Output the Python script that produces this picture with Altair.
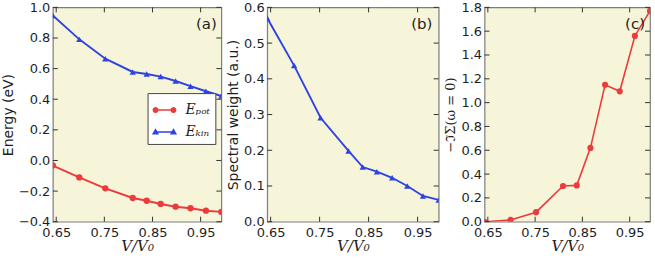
import math
import altair as alt
import pandas as pd

# V/V0 grid shared by all three panels
v_ratio = [0.643, 0.698, 0.752, 0.809, 0.838, 0.867, 0.898, 0.929, 0.961, 0.993]

# (a) energies in eV
e_kin = [0.947, 0.791, 0.665, 0.578, 0.565, 0.548, 0.519, 0.485, 0.452, 0.421]
e_pot = [-0.033, -0.111, -0.182, -0.245, -0.263, -0.284, -0.302, -0.312, -0.328, -0.336]

# (b) quasiparticle spectral weight
spectral_weight = [0.570, 0.437, 0.291, 0.198, 0.153, 0.140, 0.123, 0.100, 0.072, 0.061]

# (c) scattering rate at the Fermi level
im_sigma = [0.0, 0.015, 0.08, 0.30, 0.305, 0.62, 1.15, 1.095, 1.56, 1.77]

series_names = ["Eₚₒₜ", "Eₖᵢₙ"]
x_ticks = [0.65, 0.75, 0.85, 0.95]
x_domain = [0.643, 0.993]

RED = "#ec3b3b"
BLUE = "#2f43e2"
BG = "#f6f4d9"
FRAME = "#7d7d7d"
TEXT = "#1e1e1e"
H = 215
TICK = 5

x_scale = alt.Scale(domain=x_domain, nice=False, zero=False)


def main_x_axis():
    return alt.Axis(values=x_ticks, format=".2f", tickSize=0, domain=False, grid=False,
                    labelPadding=5, labelFont="DejaVu Sans", labelFontSize=13, labelColor=TEXT,
                    labelOverlap=False,
                    title="V/V₀", titleFont="DejaVu Serif", titleFontStyle="italic",
                    titleFontWeight="normal", titleFontSize=15, titleColor=TEXT, titlePadding=-1)


def main_y_axis(ticks, title, title_font="DejaVu Sans", title_size=14, title_pad=4):
    return alt.Axis(values=ticks, format=".1f", tickSize=0, domain=False, grid=False,
                    labelPadding=3, labelFont="DejaVu Sans", labelFontSize=13, labelColor=TEXT,
                    labelOverlap=False,
                    title=title, titleFont=title_font, titleFontWeight="normal",
                    titleFontSize=title_size, titleColor=TEXT, titlePadding=title_pad)


def inner_ticks(y_scale, y_ticks, y_axis, width):
    """Short inward tick marks on all four sides of the frame, placed through the panel's scales."""
    xt = pd.DataFrame({"tx": x_ticks})
    yt = pd.DataFrame({"ty": y_ticks})
    style = dict(color="#333", strokeWidth=1)
    xenc = alt.X("tx:Q", scale=x_scale, axis=main_x_axis())
    yenc = alt.Y("ty:Q", scale=y_scale, axis=y_axis)
    return [
        alt.Chart(xt).mark_rule(**style).encode(x=xenc, y=alt.value(H), y2=alt.value(H - TICK)),
        alt.Chart(xt).mark_rule(**style).encode(x=xenc, y=alt.value(0), y2=alt.value(TICK)),
        alt.Chart(yt).mark_rule(**style).encode(y=yenc, x=alt.value(0), x2=alt.value(TICK)),
        alt.Chart(yt).mark_rule(**style).encode(y=yenc, x=alt.value(width), x2=alt.value(width - TICK)),
    ]


def panel_tag(text, width, dx):
    return alt.Chart(pd.DataFrame({"t": [text]})).mark_text(
        font="DejaVu Sans", fontSize=15, color=TEXT, align="center", baseline="middle"
    ).encode(text="t:N", x=alt.value(width - dx), y=alt.value(17))


def polygon(cx, cy, r, n=12):
    pts = [(cx + r * math.cos(2 * math.pi * k / n), cy + r * math.sin(2 * math.pi * k / n)) for k in range(n)]
    return "M" + "L".join(f"{x:.3f},{y:.3f}" for x, y in pts) + "Z"


# legend glyphs in unit symbol space: a short bar with a marker at each end
BAR = "M-0.75,-0.06L0.75,-0.06L0.75,0.06L-0.75,0.06Z"
circle_line = BAR + polygon(-0.75, 0, 0.25) + polygon(0.75, 0, 0.25)
triangle_line = (BAR + "M-0.75,-0.32L-0.45,0.2L-1.05,0.2Z"
                 + "M0.75,-0.32L1.05,0.2L0.45,0.2Z")

# ---------- panel (a): energies ----------
WA = 169
df_a = pd.DataFrame({
    "v": v_ratio * 2,
    "energy": e_pot + e_kin,
    "series": [series_names[0]] * len(v_ratio) + [series_names[1]] * len(v_ratio),
})
ya_ticks = [-0.4, -0.2, 0.0, 0.2, 0.4, 0.6, 0.8, 1.0]
ya_scale = alt.Scale(domain=[-0.4, 1.0], nice=False, zero=False)
ya_axis = main_y_axis(ya_ticks, "Energy (eV)", title_pad=3)
color_scale = alt.Scale(domain=series_names, range=[RED, BLUE])
glyph_scale = alt.Scale(domain=series_names, range=[circle_line, triangle_line])

legend_a = alt.Legend(
    orient="none", legendX=95, legendY=86, title=None,
    labelFont="DejaVu Serif", labelFontStyle="italic", labelFontSize=14, labelColor=TEXT,
    fillColor="white", strokeColor="#444", padding=5, cornerRadius=0,
    symbolSize=576, rowPadding=3, labelOffset=9, symbolOpacity=1, symbolStrokeWidth=0,
)

base_a = alt.Chart(df_a).encode(
    x=alt.X("v:Q", scale=x_scale, axis=main_x_axis()),
    y=alt.Y("energy:Q", scale=ya_scale, axis=ya_axis),
)
series_layers = []
for name, colour, shape in ((series_names[0], RED, "circle"), (series_names[1], BLUE, "triangle-up")):
    sub = base_a.transform_filter(alt.datum.series == name)
    series_layers.append(sub.mark_line(strokeWidth=1.9, color=colour, clip=True))
    series_layers.append(sub.mark_point(filled=True, opacity=1, clip=True, size=40,
                                        shape=shape, color=colour))
# legend carrier: no rows pass the filter, the legend is built from the scale domains
legend_layer = base_a.transform_filter("false").mark_point(filled=True, opacity=1).encode(
    color=alt.Color("series:N", scale=color_scale, legend=legend_a),
    shape=alt.Shape("series:N", scale=glyph_scale, legend=legend_a),
)

panel_a = alt.layer(
    *series_layers, legend_layer,
    *inner_ticks(ya_scale, ya_ticks, ya_axis, WA), panel_tag("(a)", WA, 15)
).properties(width=WA, height=H)

# ---------- panel (b): spectral weight ----------
WB = 172
df_b = pd.DataFrame({"v": v_ratio, "z": spectral_weight})
yb_ticks = [0.0, 0.1, 0.2, 0.3, 0.4, 0.5, 0.6]
yb_scale = alt.Scale(domain=[0.0, 0.6], nice=False)
yb_axis = main_y_axis(yb_ticks, "Spectral weight (a.u.)", title_pad=3)
base_b = alt.Chart(df_b).encode(
    x=alt.X("v:Q", scale=x_scale, axis=main_x_axis()),
    y=alt.Y("z:Q", scale=yb_scale, axis=yb_axis),
)
panel_b = alt.layer(
    base_b.mark_line(strokeWidth=1.9, color=BLUE, clip=True),
    base_b.mark_point(filled=True, opacity=1, shape="triangle-up", size=40, color=BLUE, clip=True),
    *inner_ticks(yb_scale, yb_ticks, yb_axis, WB),
    panel_tag("(b)", WB, 17),
).properties(width=WB, height=H)

# ---------- panel (c): -Im Sigma(omega=0) ----------
WC = 166
df_c = pd.DataFrame({"v": v_ratio, "s": im_sigma})
yc_ticks = [0.0, 0.2, 0.4, 0.6, 0.8, 1.0, 1.2, 1.4, 1.6, 1.8]
yc_scale = alt.Scale(domain=[0.0, 1.8], nice=False)
yc_axis = main_y_axis(yc_ticks, "−ℑΣ(ω = 0)", title_font="DejaVu Serif", title_size=13, title_pad=3)
base_c = alt.Chart(df_c).encode(
    x=alt.X("v:Q", scale=x_scale, axis=main_x_axis()),
    y=alt.Y("s:Q", scale=yc_scale, axis=yc_axis),
)
panel_c = alt.layer(
    base_c.mark_line(strokeWidth=1.6, color=RED, clip=True),
    base_c.mark_point(filled=True, opacity=1, shape="circle", size=38, color=RED, clip=True),
    *inner_ticks(yc_scale, yc_ticks, yc_axis, WC),
    panel_tag("(c)", WC, 15),
).properties(width=WC, height=H)

chart = alt.hconcat(panel_a, panel_b, panel_c, spacing=46, bounds="flush").properties(
    padding={"left": 0, "top": 0, "right": 3, "bottom": 0},
    background="white",
).configure_view(fill=BG, stroke=FRAME, strokeWidth=1.2)

chart.save("out.html", embed_options={"renderer": "svg", "actions": False})
